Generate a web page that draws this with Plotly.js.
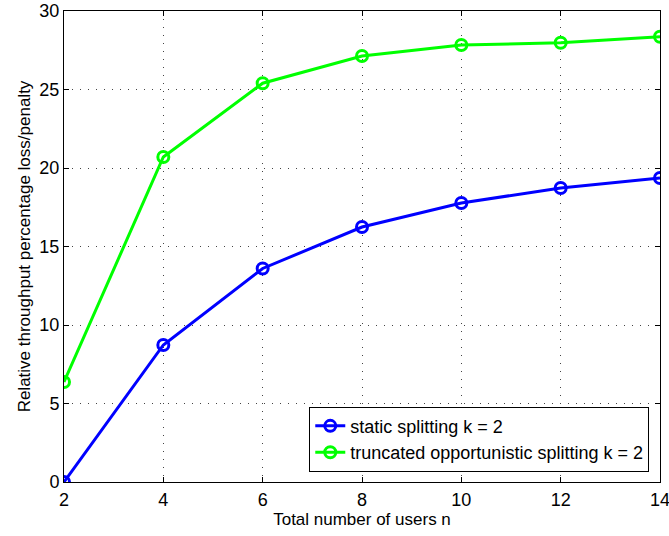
<!DOCTYPE html>
<html><head><meta charset="utf-8">
<script src="https://cdn.plot.ly/plotly-3.0.1.min.js"></script>
<style>body{margin:0;}#c{width:669px;height:536px;}</style>
</head><body><div id="c"></div>
<script>
var users = [2, 4, 6, 8, 10, 12, 14];
var staticSplit = [0, 8.73, 13.6, 16.24, 17.77, 18.73, 19.36];
var truncOpp = [6.37, 20.7, 25.4, 27.13, 27.83, 27.98, 28.36];
var xTicks = [2, 4, 6, 8, 10, 12, 14];
var yTicks = [0, 5, 10, 15, 20, 25, 30];

var traces = [
  {x: users, y: staticSplit, name: 'static splitting k = 2', mode: 'lines+markers',
   line: {color: '#0000ff', width: 3}, marker: {symbol: 'circle-open', size: 11, color: '#0000ff', line: {width: 3, color: '#0000ff'}}},
  {x: users, y: truncOpp, name: 'truncated opportunistic splitting k = 2', mode: 'lines+markers',
   line: {color: '#00ff00', width: 3}, marker: {symbol: 'circle-open', size: 11, color: '#00ff00', line: {width: 3, color: '#00ff00'}}}
];
var ax = {showline: true, linecolor: '#000', linewidth: 1, mirror: 'ticks', ticks: 'inside', ticklen: 5, tickcolor: '#000',
  showgrid: true, gridcolor: '#444', griddash: '1px,7px', gridwidth: 1, zeroline: false,
  ticklabeloverflow: 'allow', automargin: false,
  tickfont: {family: 'Liberation Sans, Arial', size: 18, color: '#000'}};
var layout = {
  width: 669, height: 536, paper_bgcolor: '#fff', plot_bgcolor: '#fff',
  margin: {l: 64, r: 9, t: 11, b: 54},
  font: {family: 'Liberation Sans, Arial', size: 17, color: '#000'},
  xaxis: Object.assign({}, ax, {range: [2, 14], tickvals: xTicks, ticklabelstandoff: 1,
    title: {text: 'Total number of users n', standoff: 2, font: {size: 17}}}),
  yaxis: Object.assign({}, ax, {range: [0, 30], tickvals: yTicks, ticklabelstandoff: 0,
    title: {text: 'Relative throughput percentage loss/penalty', standoff: 4, font: {size: 17}}}),
  showlegend: true,
  legend: {x: 0.982, xanchor: 'right', y: 0.022, yanchor: 'bottom', bgcolor: '#fff', bordercolor: '#000', borderwidth: 1,
    font: {size: 18}, tracegroupgap: 0}
};
Plotly.newPlot('c', traces, layout, {displayModeBar: false});
</script></body></html>
